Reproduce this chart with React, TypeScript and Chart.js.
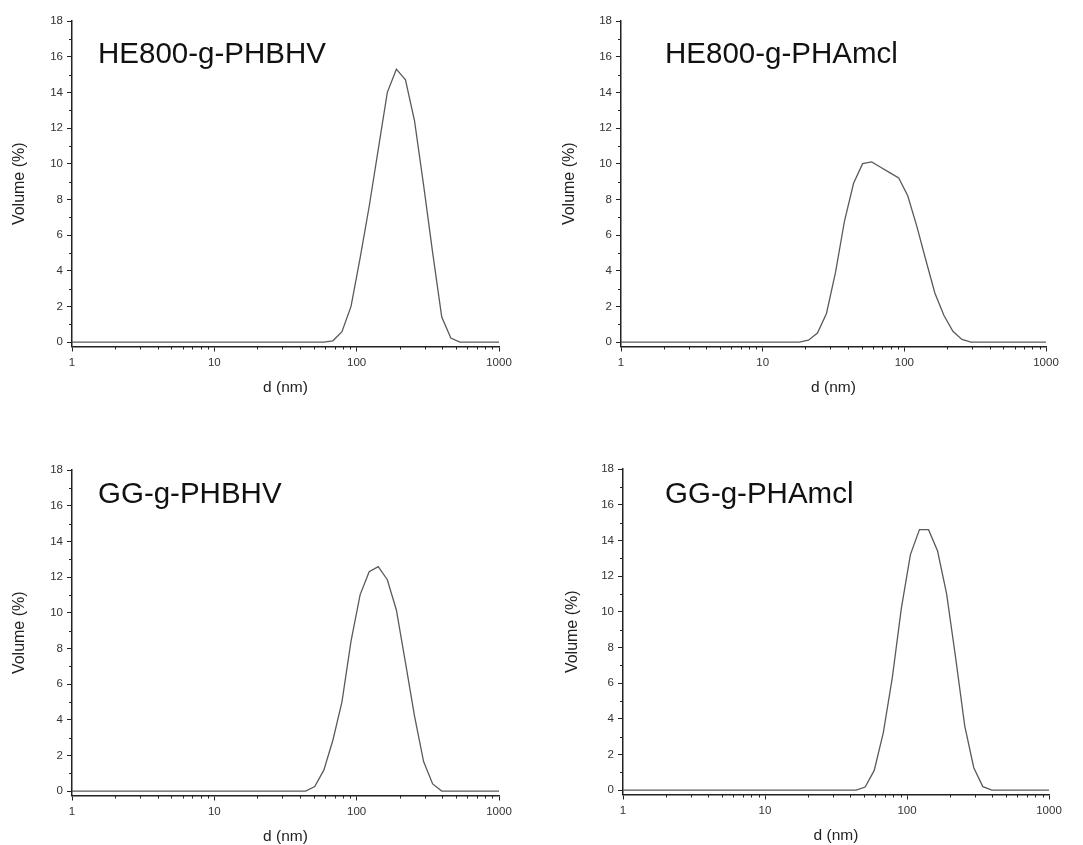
import React, { useEffect, useRef } from "react";
import { Chart, registerables } from "chart.js";

Chart.register(...registerables);

// ---------- data ----------
const yTickValues = [0, 2, 4, 6, 8, 10, 12, 14, 16, 18];
const yMinorValues = [1, 3, 5, 7, 9, 11, 13, 15, 17];
const xTickValues = [1, 10, 100, 1000];
const xMinorValues = [
  2, 3, 4, 5, 6, 7, 8, 9,
  20, 30, 40, 50, 60, 70, 80, 90,
  200, 300, 400, 500, 600, 700, 800, 900,
];

const titleHE800PHBHV = "HE800-g-PHBHV";
const titleHE800PHAmcl = "HE800-g-PHAmcl";
const titleGGPHBHV = "GG-g-PHBHV";
const titleGGPHAmcl = "GG-g-PHAmcl";

const sizesHE800PHBHV = [1, 58.77, 68.06, 78.82, 91.28, 105.7, 122.4, 141.8, 164.2, 190.1, 220.2, 255.0, 295.3, 342.0, 396.1, 458.7, 531.2, 1000];
const volumeHE800PHBHV = [0, 0, 0.07, 0.58, 2.0, 4.7, 7.6, 10.8, 14.0, 15.3, 14.7, 12.4, 8.8, 5.0, 1.4, 0.22, 0, 0];

const sizesHE800PHAmcl = [1, 18.17, 21.04, 24.36, 28.21, 32.67, 37.84, 43.82, 50.75, 58.77, 68.06, 78.82, 91.28, 105.7, 122.4, 141.8, 164.2, 190.1, 220.2, 255.0, 295.3, 1000];
const volumeHE800PHAmcl = [0, 0, 0.1, 0.5, 1.6, 3.9, 6.8, 8.9, 10.0, 10.1, 9.8, 9.5, 9.2, 8.2, 6.5, 4.6, 2.75, 1.5, 0.6, 0.15, 0, 0];

const sizesGGPHBHV = [1, 43.82, 50.75, 58.77, 68.06, 78.82, 91.28, 105.7, 122.4, 141.8, 164.2, 190.1, 220.2, 255.0, 295.3, 342.0, 396.1, 1000];
const volumeGGPHBHV = [0, 0, 0.25, 1.17, 2.85, 5.0, 8.4, 11.0, 12.3, 12.58, 11.85, 10.15, 7.2, 4.2, 1.65, 0.4, 0, 0];

const sizesGGPHAmcl = [1, 43.82, 50.75, 58.77, 68.06, 78.82, 91.28, 105.7, 122.4, 141.8, 164.2, 190.1, 220.2, 255.0, 295.3, 342.0, 396.1, 1000];
const volumeGGPHAmcl = [0, 0, 0.17, 1.1, 3.2, 6.3, 10.2, 13.2, 14.6, 14.6, 13.4, 11.0, 7.4, 3.6, 1.25, 0.19, 0, 0];

const xAxisTitle = "d (nm)";
const yAxisTitle = "Volume (%)";

// ---------- styling / layout ----------
const FONT = "'Liberation Sans', Arial, Helvetica, sans-serif";
const AXIS_COLOR = "#222";
const LINE_COLOR = "#5a5a5a";

type PanelCfg = {
  title: string;
  sizes: number[];
  values: number[];
  left: number;
  top: number;
  width: number;
  height: number;
  pad: { top: number; right: number; bottom: number; left: number };
  xh: number;
  yTitlePad: number;
  titleLeft: number;
  titleTop: number;
};

const panels: PanelCfg[] = [
  {
    title: titleHE800PHBHV, sizes: sizesHE800PHBHV, values: volumeHE800PHBHV,
    left: 0, top: 0, width: 540, height: 420,
    pad: { top: 21, right: 41, bottom: 24.25, left: 0 }, xh: 49.25, yTitlePad: 12,
    titleLeft: 98, titleTop: 37.5,
  },
  {
    title: titleHE800PHAmcl, sizes: sizesHE800PHAmcl, values: volumeHE800PHAmcl,
    left: 549, top: 0, width: 534, height: 420,
    pad: { top: 21, right: 37, bottom: 24.25, left: 0 }, xh: 49.25, yTitlePad: 13,
    titleLeft: 665, titleTop: 37.5,
  },
  {
    title: titleGGPHBHV, sizes: sizesGGPHBHV, values: volumeGGPHBHV,
    left: 0, top: 440, width: 540, height: 405,
    pad: { top: 30, right: 41, bottom: 0.25, left: 0 }, xh: 49.25, yTitlePad: 12,
    titleLeft: 98, titleTop: 477.5,
  },
  {
    title: titleGGPHAmcl, sizes: sizesGGPHAmcl, values: volumeGGPHAmcl,
    left: 551, top: 440, width: 532, height: 405,
    pad: { top: 29, right: 34, bottom: 1.25, left: 0 }, xh: 49.25, yTitlePad: 14,
    titleLeft: 665, titleTop: 477.5,
  },
];

const minorTicksPlugin = {
  id: "minorTicks",
  afterDraw(chart: any) {
    const { ctx, chartArea, scales } = chart;
    const xs = scales.x;
    const ys = scales.y;
    ctx.save();
    ctx.strokeStyle = AXIS_COLOR;
    ctx.lineWidth = 1;
    ctx.beginPath();
    xMinorValues.forEach((v) => {
      const px = Math.round(xs.getPixelForValue(v)) + 0.5;
      ctx.moveTo(px, chartArea.bottom);
      ctx.lineTo(px, chartArea.bottom + 3);
    });
    yMinorValues.forEach((v) => {
      const py = Math.round(ys.getPixelForValue(v)) + 0.5;
      ctx.moveTo(chartArea.left - 3, py);
      ctx.lineTo(chartArea.left, py);
    });
    ctx.stroke();
    ctx.restore();
  },
};

function Panel({ cfg }: { cfg: PanelCfg }) {
  const ref = useRef<HTMLCanvasElement | null>(null);

  useEffect(() => {
    if (!ref.current) return;
    const data = cfg.sizes.map((d, i) => ({ x: d, y: cfg.values[i] }));
    const chart = new Chart(ref.current, {
      type: "line",
      data: {
        datasets: [
          {
            data,
            borderColor: LINE_COLOR,
            borderWidth: 1.3,
            pointRadius: 0,
            tension: 0,
            fill: false,
          },
        ],
      },
      options: {
        animation: false,
        responsive: false,
        maintainAspectRatio: false,
        layout: { padding: cfg.pad },
        plugins: {
          legend: { display: false },
          tooltip: { enabled: false },
          title: { display: false },
        },
        scales: {
          x: {
            type: "logarithmic",
            min: 1,
            max: 1000,
            afterBuildTicks: (s: any) => {
              s.ticks = xTickValues.map((v) => ({ value: v }));
            },
            afterFit: (s: any) => {
              s.height = cfg.xh;
            },
            ticks: {
              callback: (v: any) => String(v),
              font: { family: FONT, size: 11.5 },
              color: "#333",
              padding: 4,
              maxRotation: 0,
              autoSkip: false,
            },
            grid: {
              drawOnChartArea: false,
              drawTicks: true,
              tickLength: 5,
              color: AXIS_COLOR,
              lineWidth: 1,
            },
            border: { display: true, color: AXIS_COLOR, width: 1.5 },
            title: {
              display: true,
              text: xAxisTitle,
              font: { family: FONT, size: 15.5, lineHeight: 1 },
              color: "#222",
              padding: 0,
            },
          },
          y: {
            type: "linear",
            min: -0.25,
            max: 18,
            afterBuildTicks: (s: any) => {
              s.ticks = yTickValues.map((v) => ({ value: v }));
            },
            afterFit: (s: any) => {
              s.width = 72;
            },
            ticks: {
              font: { family: FONT, size: 11.5 },
              color: "#333",
              padding: 4,
            },
            grid: {
              drawOnChartArea: false,
              drawTicks: true,
              tickLength: 5,
              color: AXIS_COLOR,
              lineWidth: 1,
            },
            border: { display: true, color: AXIS_COLOR, width: 1.5 },
            title: {
              display: true,
              text: yAxisTitle,
              font: { family: FONT, size: 16, lineHeight: 1 },
              color: "#222",
              padding: { top: cfg.yTitlePad, bottom: 0 },
            },
          },
        },
      },
      plugins: [minorTicksPlugin],
    } as any);
    return () => chart.destroy();
  }, [cfg]);

  return (
    <>
      <canvas
        ref={ref}
        width={cfg.width}
        height={cfg.height}
        style={{
          position: "absolute",
          left: cfg.left,
          top: cfg.top,
          width: cfg.width,
          height: cfg.height,
        }}
      />
      <div
        style={{
          position: "absolute",
          left: cfg.titleLeft,
          top: cfg.titleTop,
          fontFamily: FONT,
          fontSize: 29.5,
          lineHeight: 1,
          color: "#111",
          whiteSpace: "nowrap",
        }}
      >
        {cfg.title}
      </div>
    </>
  );
}

export default function App() {
  return (
    <div
      style={{
        position: "absolute",
        left: 0,
        top: 0,
        width: 1083,
        height: 845,
        overflow: "hidden",
        background: "#fff",
      }}
    >
      {panels.map((p, i) => (
        <Panel key={i} cfg={p} />
      ))}
    </div>
  );
}
